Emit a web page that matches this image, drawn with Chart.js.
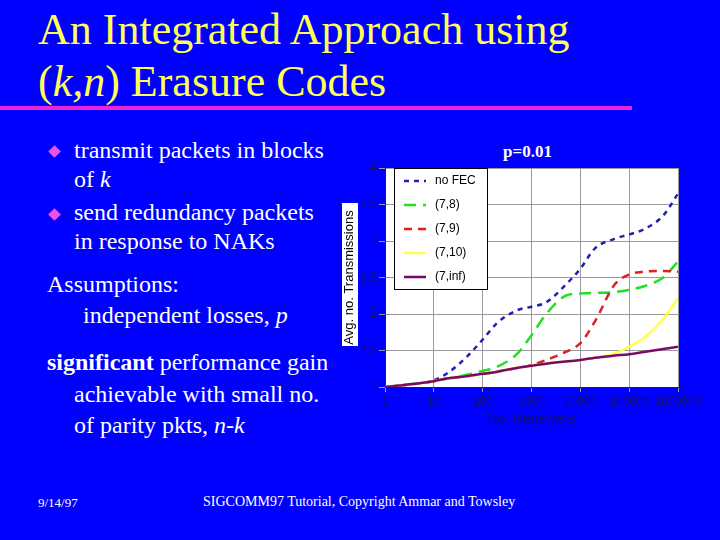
<!DOCTYPE html>
<html>
<head>
<meta charset="utf-8">
<script src="https://cdn.jsdelivr.net/npm/chart.js@4"></script>
<style>
  html, body { margin: 0; padding: 0; }
  body { width: 720px; height: 540px; background: #0000ff; position: relative; overflow: hidden;
         font-family: "Liberation Serif", "Times New Roman", serif; }
  .t { position: absolute; white-space: nowrap; line-height: 1; }
  .title { color: #ffff55; font-size: 44px; left: 38px; }
  .body { color: #ffffff; font-size: 24px; }
  .foot { color: #ffffff; font-size: 14px; top: 495px; }
  .bullet { position: absolute; width: 9px; height: 9px; background: #f050ea; transform: rotate(45deg); }
  #rule { position: absolute; left: 0; top: 106px; width: 632px; height: 4px; background: #f020e0; }
  #ylabBox { position: absolute; left: 342px; top: 203px; width: 16px; height: 143px; background: #fff; }
  #ptitle { position: absolute; color: #fff; font-weight: bold; font-size: 17px; left: 503px; top: 143px; }
  #wrap { position: absolute; left: 340px; top: 140px; width: 370px; height: 300px; }
</style>
</head>
<body>
<div class="t title" style="top:8px">An Integrated Approach using</div>
<div class="t title" style="top:60px">(<i>k,n</i>) Erasure Codes</div>
<div id="rule"></div>

<div class="bullet" style="left:50px; top:147px"></div>
<div class="t body" style="left:74px; top:138px">transmit packets in blocks</div>
<div class="t body" style="left:74px; top:167px">of <i>k</i></div>
<div class="bullet" style="left:50px; top:210px"></div>
<div class="t body" style="left:74px; top:200px">send redundancy packets</div>
<div class="t body" style="left:74px; top:229px">in response to NAKs</div>

<div class="t body" style="left:47px; top:272px">Assumptions:</div>
<div class="t body" style="left:83px; top:303px">independent losses, <i>p</i></div>

<div class="t body" style="left:47px; top:350px"><b>significant</b> performance gain</div>
<div class="t body" style="left:74px; top:382px">achievable with small no.</div>
<div class="t body" style="left:74px; top:413px">of parity pkts, <i>n-k</i></div>

<div class="t foot" style="left:38px; font-size:13px; top:496px">9/14/97</div>
<div class="t foot" style="left:203px">SIGCOMM97 Tutorial, Copyright Ammar and Towsley</div>

<div id="ylabBox"></div>
<div id="ptitle" class="t">p=0.01</div>
<div id="wrap"><canvas id="chart" width="370" height="300"></canvas></div>

<script>
// number of receivers (x) shared by every curve
const receivers = [1, 2, 5, 10, 20, 50, 100, 200, 500, 1000, 2000, 5000, 10000,
                   20000, 50000, 100000, 200000, 500000, 1000000];

const noFec   = [1.00, 1.02, 1.05, 1.09, 1.20, 1.43, 1.65, 1.88, 2.05, 2.10, 2.16, 2.40, 2.62,
                 2.90, 3.03, 3.09, 3.16, 3.35, 3.65];
const fec78   = [1.00, 1.02, 1.05, 1.08, 1.12, 1.17, 1.22, 1.28, 1.45, 1.71, 2.00, 2.25, 2.28,
                 2.29, 2.30, 2.33, 2.38, 2.50, 2.72];
const fec79   = [1.00, 1.02, 1.05, 1.08, 1.12, 1.15, 1.18, 1.21, 1.26, 1.30, 1.37, 1.48, 1.60,
                 1.90, 2.40, 2.54, 2.58, 2.59, 2.58];
const fec710  = [1.00, 1.02, 1.05, 1.08, 1.12, 1.15, 1.18, 1.21, 1.26, 1.29, 1.32, 1.35, 1.37,
                 1.40, 1.46, 1.55, 1.67, 1.93, 2.22];
const fec7inf = [1.00, 1.02, 1.05, 1.08, 1.12, 1.15, 1.18, 1.21, 1.26, 1.29, 1.32, 1.35, 1.37,
                 1.40, 1.43, 1.45, 1.48, 1.52, 1.55];

const seriesLabels = ['no FEC', '(7,8)', '(7,9)', '(7,10)', '(7,inf)'];
const xTickValues = [1, 10, 100, 1000, 10000, 100000, 1000000];
const xTickLabels = ['1', '10', '100', '1000', '10000', '100000', '1000000'];
const yTickLabels = ['1', '1.5', '2', '2.5', '3', '3.5', '4'];

const toPoints = (ys) => ys.map((y, i) => ({ x: receivers[i], y: y }));

const tickColor = '#101060';
const sans = 'Liberation Sans, Arial, sans-serif';

// white plot background
const plotBg = {
  id: 'plotBg',
  beforeDraw(chart) {
    const a = chart.chartArea, ctx = chart.ctx;
    ctx.save();
    ctx.fillStyle = '#ffffff';
    ctx.fillRect(a.left, a.top, a.right - a.left, a.bottom - a.top);
    ctx.restore();
  }
};

// boxed legend inside the top-left of the plot
const boxLegend = {
  id: 'boxLegend',
  afterDatasetsDraw(chart) {
    const a = chart.chartArea, ctx = chart.ctx;
    const x0 = a.left + 9, y0 = a.top, w = 93, h = 121;
    ctx.save();
    ctx.fillStyle = '#ffffff';
    ctx.fillRect(x0, y0, w, h);
    ctx.strokeStyle = '#000000';
    ctx.lineWidth = 1;
    ctx.strokeRect(x0 + 0.5, y0 + 0.5, w, h);
    ctx.font = '12px ' + sans;
    ctx.textBaseline = 'middle';
    chart.data.datasets.forEach((ds, i) => {
      const y = y0 + 13 + i * 24;
      ctx.strokeStyle = ds.borderColor;
      ctx.lineWidth = ds.borderWidth;
      ctx.setLineDash(ds.borderDash || []);
      ctx.beginPath();
      ctx.moveTo(x0 + 10, y);
      ctx.lineTo(x0 + 32, y);
      ctx.stroke();
      ctx.setLineDash([]);
      ctx.fillStyle = '#000000';
      ctx.fillText(ds.label, x0 + 41, y);
    });
    ctx.restore();
  }
};

const styles = [
  { color: '#2020b0', dash: [5, 5], order: 4 },
  { color: '#20e020', dash: [12, 7], order: 3 },
  { color: '#e02020', dash: [8, 6], order: 2 },
  { color: '#ffff50', dash: [], order: 1 },
  { color: '#7a0a6a', dash: [], order: 0 }
];
const values = [noFec, fec78, fec79, fec710, fec7inf];

new Chart(document.getElementById('chart'), {
  type: 'line',
  data: {
    datasets: values.map((v, i) => ({
      label: seriesLabels[i],
      data: toPoints(v),
      borderColor: styles[i].color,
      borderDash: styles[i].dash,
      borderWidth: 2.5,
      order: styles[i].order,
      pointRadius: 0,
      fill: false,
      cubicInterpolationMode: 'monotone'
    }))
  },
  options: {
    responsive: false,
    animation: false,
    layout: { padding: { top: 28, right: 32, left: 0, bottom: 0 } },
    plugins: {
      legend: { display: false },
      title: { display: false },
      tooltip: { enabled: false }
    },
    scales: {
      x: {
        type: 'logarithmic',
        min: 1,
        max: 1000000,
        afterBuildTicks: (scale) => { scale.ticks = xTickValues.map(v => ({ value: v })); },
        afterFit: (scale) => { scale.height = 53; },
        ticks: {
          color: tickColor,
          font: { family: sans, size: 12 },
          padding: 2,
          maxRotation: 0,
          autoSkip: false,
          callback: (value) => xTickLabels[xTickValues.indexOf(value)]
        },
        grid: { color: '#9a9a9a', lineWidth: 1, tickLength: 5 },
        border: { display: true, color: '#222222', width: 1 },
        title: {
          display: true,
          text: 'No. Receivers',
          color: tickColor,
          font: { family: sans, size: 14 },
          padding: { top: 12, bottom: 12 }
        }
      },
      y: {
        min: 1,
        max: 4,
        afterFit: (scale) => { scale.width = 45; },
        ticks: {
          stepSize: 0.5,
          color: tickColor,
          font: { family: sans, size: 12 },
          padding: 2,
          callback: (value, index) => yTickLabels[index]
        },
        grid: { color: '#9a9a9a', lineWidth: 1, tickLength: 6 },
        border: { display: true, color: '#222222', width: 1 },
        title: {
          display: true,
          text: 'Avg. no. Transmissions',
          color: '#000000',
          font: { family: sans, size: 13 },
          padding: { top: 2, bottom: 2 }
        }
      }
    }
  },
  plugins: [plotBg, boxLegend]
});
</script>
</body>
</html>
